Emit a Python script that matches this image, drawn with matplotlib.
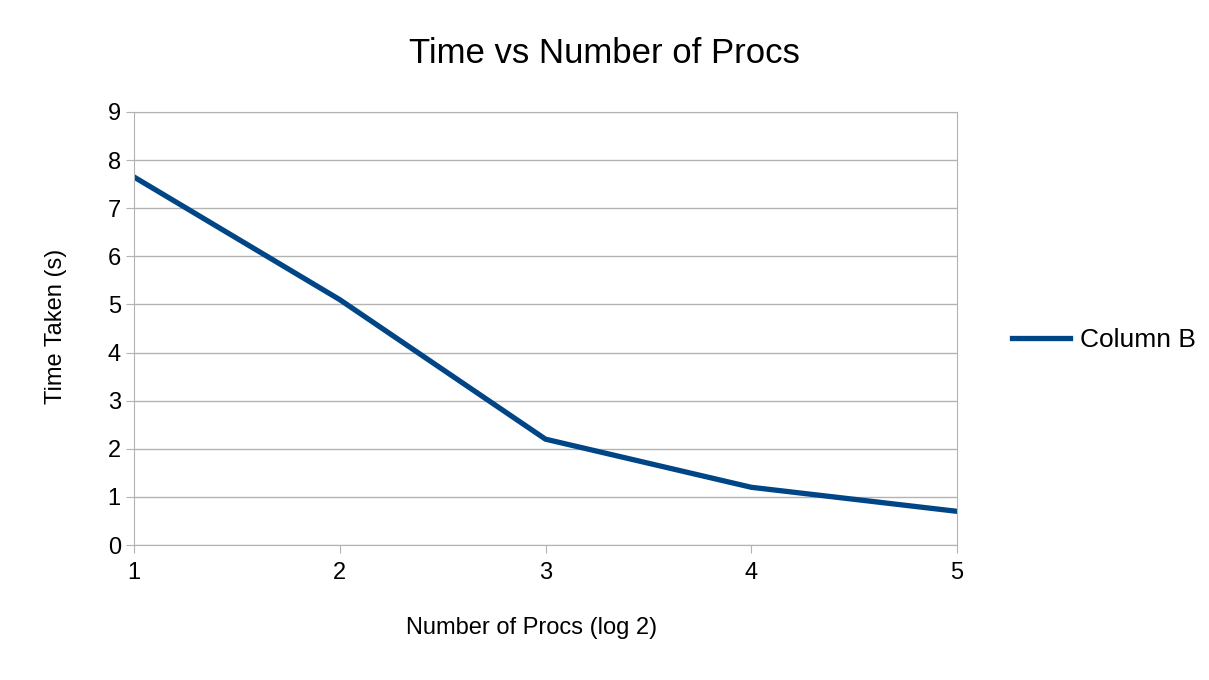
import matplotlib
matplotlib.use('Agg')
import matplotlib.pyplot as plt

plt.rcParams['font.family'] = ['Liberation Sans', 'DejaVu Sans']

# данные с графика
procs_log2 = [1, 2, 3, 4, 5]
time_taken = [7.65, 5.1, 2.2, 1.2, 0.7]
y_ticks = list(range(0, 10))

fig = plt.figure(figsize=(12.09, 6.8), dpi=100)
ax = fig.add_axes([0.1108, 0.1985, 0.6808, 0.6368])

ax.plot(procs_log2, time_taken, color='#004586', linewidth=3.8, label='Column B',
        solid_joinstyle='round')
ax.set_xlim(1, 5)
ax.set_ylim(0, 9)
ax.set_xticks(procs_log2)
ax.set_yticks(y_ticks)
ax.grid(axis='y', color='#b3b3b3', linewidth=1)
ax.set_axisbelow(True)
for s in ax.spines.values():
    s.set_color('#b3b3b3')
ax.tick_params(colors='#b3b3b3', labelcolor='black', labelsize=17, length=6)
ax.tick_params(axis='x', pad=6)

fig.text(0.5, 0.922, 'Time vs Number of Procs', fontsize=25, ha='center', va='center')
fig.text(0.44, 0.076, 'Number of Procs (log 2)', fontsize=17, ha='center', va='center')
fig.text(0.046, 0.52, 'Time Taken (s)', fontsize=17, ha='center', va='center',
         rotation=90)

fig.legend(loc='center left', bbox_to_anchor=(0.817, 0.5), frameon=False,
           fontsize=19, handlelength=2.2, handletextpad=0.4)

fig.savefig('out.png', dpi=100)
